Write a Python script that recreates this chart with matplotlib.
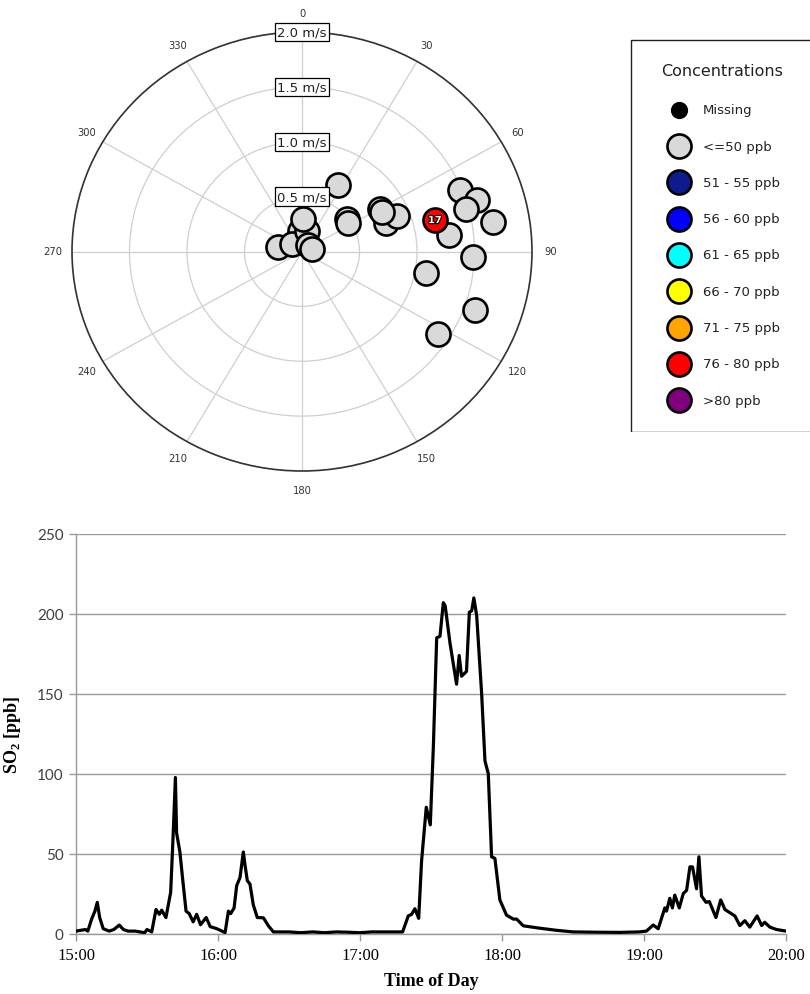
import numpy as np
import matplotlib
matplotlib.use("Agg")
import matplotlib.pyplot as plt
import matplotlib.patheffects as pe
from matplotlib.patches import Rectangle

# ---- wind rose style scatter: direction (deg from N) / speed (m/s) ----
wind_dir = [355.0, 280.5, 307.0, 27.6, 12.2, 2.1, 43.0, 74.7, 52.8, 56.7,
            60.3, 70.2, 68.5, 62.8, 83.3, 67.8, 72.8, 74.9, 80.9, 91.8,
            100.3, 109.5, 122.5, 76.1]
wind_speed = [0.19, 0.21, 0.11, 0.68, 0.19, 0.30, 0.08, 0.09, 0.49, 0.48,
              0.78, 0.78, 0.89, 0.78, 1.29, 1.48, 1.59, 1.48, 1.68, 1.49,
              1.10, 1.60, 1.40, 1.19]
wind_class = ["<=50 ppb"] * 23 + ["76 - 80 ppb"]
point_tags = [""] * 23 + ["17"]

# ---- legend classes ----
class_labels = ["Missing", "<=50 ppb", "51 - 55 ppb", "56 - 60 ppb", "61 - 65 ppb",
                "66 - 70 ppb", "71 - 75 ppb", "76 - 80 ppb", ">80 ppb"]
class_colors = ["#000000", "#d9d9d9", "#0d1b8c", "#0000ff", "#00ffff",
                "#ffff00", "#ffa500", "#ff0000", "#800080"]

ring_speeds = [0.5, 1.0, 1.5, 2.0]
theta_labels = [str(a) for a in range(0, 360, 30)]

# ---- SO2 time series (minutes after 15:00, ppb) ----
minutes = [0, 2, 4, 5, 6.6, 8, 9, 10, 11.5, 14, 16, 18.3, 20, 22, 25, 27, 29, 30, 32,
           33.8, 35.2, 36.2, 38, 40, 41, 42, 42.5, 43.9, 45, 46.5, 47.8, 49.5, 51,
           52.6, 55, 56.7, 59.5, 61, 63, 64.4, 65.4, 66.8, 67.9, 69.3, 70.7, 71.4,
           72.4, 73.5, 74.9, 76.6, 79.2, 81.3, 83.4, 90, 95, 100, 105, 110, 115, 120,
           125, 130, 135, 138, 140.4, 141.8, 143.2, 144.8, 146, 148, 149.7, 151,
           152.4, 153.8, 155.2, 156, 158, 160.8, 161.9, 162.9, 165, 166.2, 167.2,
           168.1, 169.3, 171.4, 172.8, 174.2, 175.6, 177, 179.1, 181.9, 184.8, 186.2,
           189, 196, 203, 210, 220, 230, 238, 241, 243.9, 246, 248.8, 249.5, 250.9,
           252, 253, 254.9, 256.6, 258, 259.4, 260.5, 262.2, 263.2, 264.3, 266.2,
           267.6, 269.3, 270.4, 272.4, 274.2, 276.3, 278.4, 280.5, 282.6, 284.7,
           287.8, 289.7, 291, 293.2, 296, 300]
so2 = [1.5, 2, 2.5, 1.5, 9, 14, 19.5, 10, 3, 1.5, 2.5, 5.3, 2.5, 1.5, 1.5, 1, 0.5, 2.5, 1,
       15, 12, 14.6, 10, 25.7, 60, 97.6, 63, 51, 35, 14, 12.5, 7.3, 12,
       5.5, 10, 4.3, 3, 2, 0.6, 14, 12.5, 16, 30, 35, 51, 43,
       33, 31, 18, 10, 9.8, 4.8, 1, 1, 0.5, 1, 0.5, 1, 0.8, 0.5,
       1, 1, 1, 1, 11, 12, 15.5, 9.5, 45, 79, 68, 117,
       185, 186, 207, 205, 182, 156, 174, 161, 164, 201, 202,
       210, 199, 150, 108, 100, 48, 47, 21, 11.5, 9, 9,
       4.8, 3.3, 2, 1, 0.8, 0.7, 1, 1.5, 5.3, 3, 16, 14, 22,
       16, 24, 16, 25, 27, 41.7, 41.7, 28, 48, 23.5, 19.5,
       20, 14, 10, 21, 15, 13, 11, 5, 8, 4,
       11, 5, 7, 4, 2.5, 1.5]
hour_ticks = [0, 60, 120, 180, 240, 300]
hour_labels = ["15:00", "16:00", "17:00", "18:00", "19:00", "20:00"]
so2_ticks = [0, 50, 100, 150, 200, 250]

plt.rcParams["mathtext.fontset"] = "custom"
plt.rcParams["mathtext.rm"] = "Liberation Serif:bold"
plt.rcParams["mathtext.bf"] = "Liberation Serif:bold"

W, H = 810, 995
fig = plt.figure(figsize=(W / 100, H / 100), dpi=100)


def box(x0, y0, x1, y1):
    """pixel box (top-left origin) -> figure fraction rect"""
    return [x0 / W, 1 - y1 / H, (x1 - x0) / W, (y1 - y0) / H]


# ================= polar scatter =================
pax = fig.add_axes(box(72, 33, 532, 472), projection="polar")
pax.set_theta_zero_location("N")
pax.set_theta_direction(-1)
pax.set_ylim(0, 2.0)
pax.set_aspect("auto")
pax.set_rticks(ring_speeds)
pax.set_yticklabels([])
pax.set_thetagrids(range(0, 360, 30), theta_labels, fontsize=7.2, color="#333333")
pax.tick_params(axis="x", pad=3)
pax.grid(True, color="#cfcfcf", lw=0.9)
pax.spines["polar"].set_color("#333333")
pax.spines["polar"].set_linewidth(1.2)

color_of = dict(zip(class_labels, class_colors))
theta = np.deg2rad(wind_dir)
for th, r, c, tag in zip(theta, wind_speed, wind_class, point_tags):
    pax.scatter(th, r, s=300, c=color_of[c], edgecolors="black", linewidths=1.9,
                zorder=5 if not tag else 6, clip_on=False)
    if tag:
        t = pax.text(th, r, tag, ha="center", va="center", fontsize=7, fontweight="bold",
                     color="white", zorder=7)
        t.set_path_effects([pe.withStroke(linewidth=1.6, foreground="black")])

for rs in ring_speeds:
    pax.text(0, rs, f"{rs:.1f} m/s", ha="center", va="center", fontsize=9.5, zorder=8,
             color="#222222",
             bbox=dict(boxstyle="square,pad=0.2", fc="white", ec="black", lw=0.9))

# ================= legend panel =================
lax = fig.add_axes(box(630, 40, 815, 433))
lax.set_xlim(630, 815)
lax.set_ylim(433, 40)
lax.axis("off")
lax.add_patch(Rectangle((630.5, 40.5), 184, 392, fill=False, ec="#222222", lw=1.0))
lax.text(722, 72, "Concentrations", ha="center", va="center", fontsize=11.5, color="#222222")
row_y = 110.7
for lab, col in zip(class_labels, class_colors):
    size = 110 if lab == "Missing" else 300
    lax.scatter(679, row_y, s=size, c=col, edgecolors="black", linewidths=1.9, zorder=3)
    lax.text(703, row_y, lab, ha="left", va="center", fontsize=9.5, color="#222222")
    row_y += 36.3

# ================= SO2 time series =================
ax = fig.add_axes(box(76, 535, 786, 934.5))
ax.plot(minutes, so2, color="black", lw=2.3, solid_joinstyle="round", zorder=3)
ax.set_xlim(0, 300)
ax.set_ylim(0, 250)
ax.set_yticks(so2_ticks)
ax.set_yticklabels([str(v) for v in so2_ticks], fontfamily="Lato", fontsize=11,
                   color="#404040")
ax.set_xticks(hour_ticks)
ax.set_xticklabels(hour_labels, fontfamily="Liberation Serif", fontsize=12, color="black")
ax.yaxis.grid(True, color="#9a9a9a", lw=1.0)
ax.set_axisbelow(True)
for s in ("top", "right"):
    ax.spines[s].set_visible(False)
for s in ("left", "bottom"):
    ax.spines[s].set_color("#9a9a9a")
    ax.spines[s].set_linewidth(1.0)
ax.tick_params(axis="both", direction="out", length=5, width=1.0, color="#9a9a9a")
ax.tick_params(axis="y", pad=4)
ax.tick_params(axis="x", pad=5)
ax.set_xlabel("Time of Day", fontfamily="Liberation Serif", fontweight="bold",
              fontsize=13, labelpad=6)
ax.set_ylabel(r"SO$_{\mathbf{2}}$ [ppb]", fontfamily="Liberation Serif",
              fontweight="bold", fontsize=13, labelpad=10)

fig.savefig("out.png", dpi=100)
